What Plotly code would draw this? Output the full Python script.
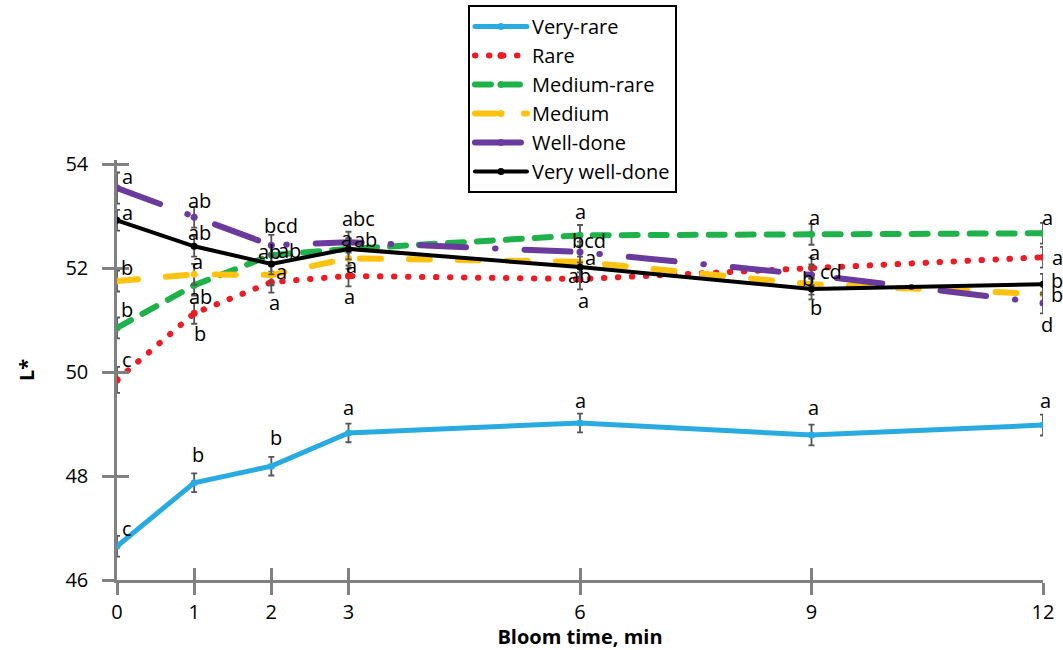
import plotly.graph_objects as go

# ---------------- data ----------------
times = [0, 1, 2, 3, 6, 9, 12]
series_names = ["Very-rare", "Rare", "Medium-rare", "Medium", "Well-done", "Very well-done"]

very_rare = [46.65, 47.87, 48.19, 48.83, 49.02, 48.79, 48.98]
rare = [49.85, 51.13, 51.73, 51.85, 51.79, 52.00, 52.21]
medium_rare = [50.85, 51.67, 52.25, 52.37, 52.63, 52.65, 52.67]
medium = [51.75, 51.88, 51.87, 52.19, 52.12, 51.69, 51.50]
well_done = [53.54, 52.98, 52.44, 52.50, 52.31, 51.87, 51.33]
very_well_done = [52.92, 52.42, 52.08, 52.37, 52.02, 51.60, 51.69]

err_very_rare = [0.2, 0.18, 0.18, 0.18, 0.18, 0.2, 0.2]
err_rare = [0.25, 0.2, 0.2, 0.2, 0.2, 0.2, 0.2]
err_medium_rare = [0.2, 0.2, 0.2, 0.2, 0.2, 0.2, 0.2]
err_medium = [0.2, 0.2, 0.2, 0.2, 0.2, 0.2, 0.2]
err_well_done = [0.3, 0.2, 0.2, 0.2, 0.2, 0.2, 0.2]
err_very_well_done = [0.2, 0.2, 0.2, 0.2, 0.2, 0.2, 0.2]

letters_very_rare = ["c", "b", "b", "a", "a", "a", "a"]
letters_rare = ["c", "b", "a", "a", "a", "a", "a"]
letters_medium_rare = ["b", "ab", "ab", "ab", "a", "a", "a"]
letters_medium = ["b", "a", "a", "a", "a", "b", "b"]
letters_well_done = ["a", "ab", "bcd", "abc", "bcd", "cd", "d"]
letters_very_well_done = ["a", "ab", "ab", "a", "ab", "b", "b"]

x_ticks = [0, 1, 2, 3, 6, 9, 12]
y_ticks = [46, 48, 50, 52, 54]

# ---------------- styles ----------------
values = [very_rare, rare, medium_rare, medium, well_done, very_well_done]
errors = [err_very_rare, err_rare, err_medium_rare, err_medium, err_well_done, err_very_well_done]
letters = [letters_very_rare, letters_rare, letters_medium_rare, letters_medium,
           letters_well_done, letters_very_well_done]
colors = ["#29ABE2", "#ED1C24", "#1FB24A", "#FFC20E", "#6A3A9C", "#000000"]
dashes = ["solid", "0.5px,13.5px", "16px,13px", "21px,28px", "46px,29px,0.5px,29px", "solid"]
widths = [5, 6, 6, 6, 6, 4]

# label pixel offsets (xshift, yshift) per series per point
offsets = [
    [(10, 18), (4, 28), (5, 29), (0, 25), (0, 23), (2, 27), (2, 25)],          # very rare
    [(10, 20), (6, -20), (3, -20), (1, -21), (3, -21), (3, 16), (14, 0)],     # rare
    [(10, 18), (6, -11), (18, 5), (17, 9), (0, 24), (3, 17), (4, 16)],        # medium-rare
    [(10, 14), (3, 13), (10, 3), (3, -7), (10, 4), (-4, 6), (14, 0)],         # medium
    [(10, 12), (5, 17), (10, 20), (10, 24), (9, 12), (19, 3), (4, -22)],      # well-done
    [(10, 8), (5, 14), (-2, 12), (-2, 10), (-1, -8), (4, -19), (14, 4)],      # very well-done
]

FONT = "Open Sans"
AXIS_GREY = "#808080"

fig = go.Figure()
for name, v, e, c, d, w in zip(series_names, values, errors, colors, dashes, widths):
    fig.add_trace(go.Scatter(
        x=times, y=v, name=name, mode="lines+markers",
        line=dict(color=c, width=w, dash=d),
        marker=dict(color=c, size=7),
        error_y=dict(type="data", array=e, visible=True, color="#555555",
                     thickness=1.8, width=3),
    ))

# dummy trace for overlay axes (crossing tick marks)
fig.add_trace(go.Scatter(x=[times[0]], y=[y_ticks[0]], xaxis="x2", yaxis="y2",
                         mode="markers", marker=dict(opacity=0), showlegend=False,
                         hoverinfo="skip"))

annotations = []
for v, labs, offs in zip(values, letters, offsets):
    for xi, yi, lab, (dx, dy) in zip(times, v, labs, offs):
        annotations.append(dict(x=xi, y=yi, text=lab, showarrow=False,
                                xshift=dx, yshift=dy,
                                font=dict(family=FONT, size=20, color="black")))

xr = [0, 12]
yr = [46, 54.08]
fig.update_layout(
    width=1063, height=650,
    margin=dict(l=117, r=20, t=160, b=70, autoexpand=False),
    paper_bgcolor="white", plot_bgcolor="white",
    font=dict(family=FONT, size=19, color="black"),
    showlegend=True,
    legend=dict(x=0.379, xanchor="left", y=1.369, yanchor="top",
                bgcolor="white", bordercolor="black", borderwidth=2,
                font=dict(family=FONT, size=20, color="black"),
                itemwidth=52, tracegroupgap=0),
    xaxis=dict(range=xr, tickvals=x_ticks, ticktext=[str(t) for t in x_ticks],
               showgrid=False, zeroline=False, showline=True, linecolor=AXIS_GREY,
               linewidth=2.5, ticks="outside", ticklen=12, tickwidth=2.5,
               tickcolor=AXIS_GREY, tickfont=dict(size=20),
               title=dict(text="<b>Bloom time, min</b>", font=dict(size=20), standoff=2)),
    yaxis=dict(range=yr, tickvals=y_ticks, showgrid=False, zeroline=False,
               showline=True, linecolor=AXIS_GREY, linewidth=2.5, ticks="outside",
               ticklen=12, tickwidth=2.5, tickcolor=AXIS_GREY, tickfont=dict(size=20),
               ticklabelstandoff=10,
               title=dict(text="<b>L*</b>", font=dict(size=20), standoff=26)),
    xaxis2=dict(range=xr, overlaying="x", tickvals=x_ticks, showticklabels=False,
                showgrid=False, zeroline=False, showline=False, ticks="inside",
                ticklen=12, tickwidth=2.5, tickcolor=AXIS_GREY),
    yaxis2=dict(range=yr, overlaying="y", tickvals=y_ticks, showticklabels=False,
                showgrid=False, zeroline=False, showline=False, ticks="inside",
                ticklen=12, tickwidth=2.5, tickcolor=AXIS_GREY),
    annotations=annotations,
)

post_js = """
document.body.style.margin = '0px';
var gd = document.getElementById('{plot_id}');
function roundCaps() {
  gd.querySelectorAll('path.js-line').forEach(function(p) {
    p.style.strokeLinecap = 'round';
  });
}
roundCaps();
gd.on('plotly_afterplot', roundCaps);
"""

fig.write_html("out.html", post_script=post_js, config={"displayModeBar": False})
